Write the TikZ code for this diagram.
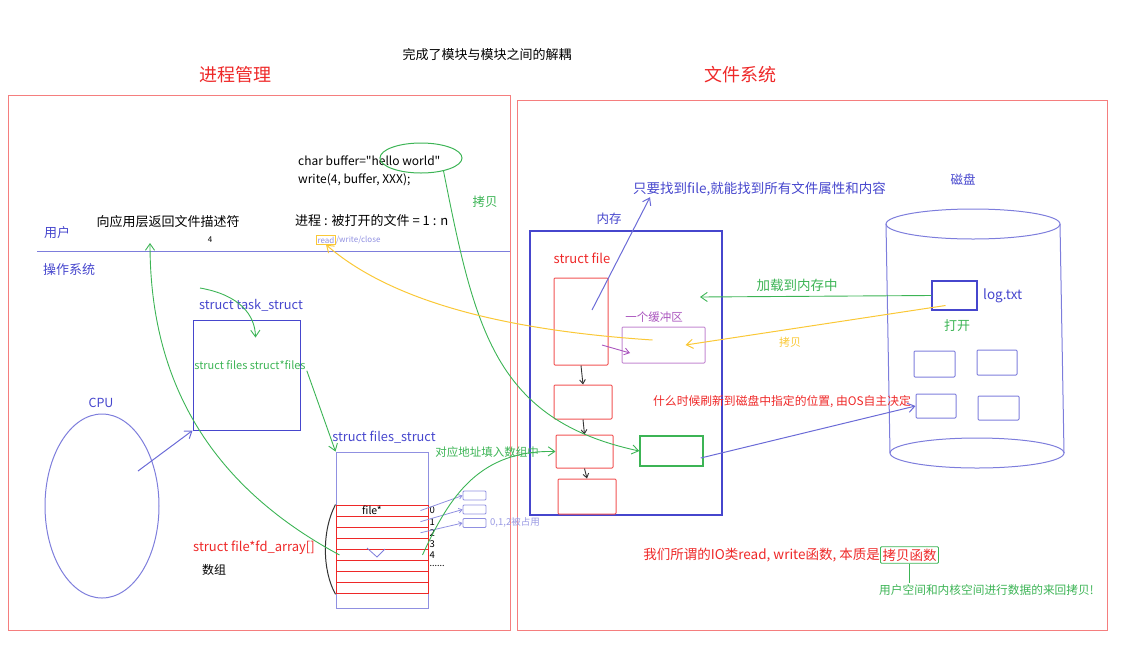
\documentclass[tikz,border=0pt]{standalone}
\usepackage{fontspec}
\setmainfont{Noto Sans CJK SC}
\newfontfamily\codefont{Noto Sans CJK SC}
\usepackage{tikz}
\usetikzlibrary{arrows.meta,shapes.geometric}
\definecolor{myred}{RGB}{238,40,40}
\definecolor{myblue}{RGB}{70,70,205}
\definecolor{mygreen}{RGB}{60,180,85}
\definecolor{myyellow}{RGB}{250,200,55}
\definecolor{mypurple}{RGB}{170,85,190}

\begin{document}
\begin{tikzpicture}[x=1pt, y=-1pt, >={Straight Barb[angle=70:8pt]},
    lbl/.style={inner sep=1pt, font=\fontsize{#1}{#1}\selectfont},
    box/.style={draw, inner sep=0pt, line width=1pt}]
    \useasboundingbox (0,0) rectangle (1137,662);

    % Titles
    \node[lbl=13] (decouple) at (487,55) {完成了模块与模块之间的解耦};
    \node[lbl=18, myred] (proc) at (235,75) {进程管理};
    \node[lbl=18, myred] (fsys) at (740,75) {文件系统};

    % Panels
    \draw[myred!60, line width=1pt] (8,95) rectangle (510,630);
    \draw[myred!60, line width=1pt] (517,100) rectangle (1107,630);

    % User / kernel
    \draw[myblue!70, line width=1pt] (37,251) -- (510,251);
    \node[lbl=13, myblue] (user) at (57,233) {用户};
    \node[lbl=13, myblue] (kernel) at (69,270) {操作系统};
    \node[lbl=13] (fdret) at (168,222) {向应用层返回文件描述符};
    \node[lbl=8] (fdnum) at (210,240) {4};

    % Code in user space
    \node[lbl=12, anchor=west] (code1) at (297,161) {\codefont char buffer="hello world"};
    \node[lbl=12, anchor=west] (code2) at (297,180) {write(4, buffer, XXX);};
    \node[ellipse, draw=mygreen, line width=1pt, minimum width=82, minimum height=30] (hello) at (421,158) {};
    \node[lbl=12.5, mygreen] (copy1) at (485,202) {拷贝};
    \node[lbl=13, anchor=west] (ratio) at (294,221) {进程 : 被打开的文件 = 1 : n};
    \node[lbl=8, draw=myyellow, line width=1pt, text=myblue!60] (readw) at (326,240) {read};
    \node[lbl=8, anchor=west, myblue!60, inner xsep=0pt] (wclose) at (readw.east) {/write/close};

    % task_struct
    \node[box, draw=myblue, minimum width=107, minimum height=110] (task) at (246.5,375) {};
    \node[lbl=12.8, myblue] (tasklbl) at (251,305) {struct task\_struct};
    \node[lbl=11, mygreen] (filesptr) at (250,365) {struct files struct*files};
    \coordinate (tsfrom) at (200,288);
    \draw[mygreen, line width=0.9pt, ->] (tsfrom) .. controls (240,295) and (255,315) .. ([shift={(9,18)}]task.north);

    % files_struct
    \node[box, draw=myblue!60, minimum width=92, minimum height=156] (fs) at (382,530) {};
    \node[lbl=12.8, myblue] (fslbl) at (384,437) {struct files\_struct};
    \draw[mygreen, line width=0.9pt, ->] (filesptr.south east) -- (fs.north west);

    % fd_array
    \foreach \i in {0,...,7}
      \node[box, draw=myred, minimum width=92, minimum height=11.1] (r\i) at (382,{505+11.1*(\i+0.5)}) {};
    \foreach \i in {0,...,4}
      \node[lbl=9.5, anchor=west, inner xsep=1pt] (idx\i) at (r\i.east) {\i};
    \node[lbl=9, anchor=west] (dots) at (r5.east) {......};
    \node[lbl=10.5] (fileptr) at ([xshift=-10]r0.center) {file*};
    \draw[myblue!70, line width=0.8pt] (367,548) -- (377,557) -- (385,549);
    \draw[black!80, line width=1pt] (r0.north west) .. controls (322,530) and (322,570) .. (r7.south west);
    \node[lbl=13, myred, anchor=west] (fdarr) at (192,548) {struct file*fd\_array[]};
    \node[lbl=12, inner sep=0pt] (arrlbl) at (214,570) {数组};

    % Occupied descriptors 0,1,2
    \foreach \i/\y in {0/495.5,1/509.5,2/523}
      \node[box, draw=myblue!60, line width=0.8pt, rounded corners=1pt, minimum width=23, minimum height=9] (sb\i) at (474.5,\y) {};
    \foreach \i in {0,1,2}
      \draw[myblue!60, line width=0.8pt, ->, >={Straight Barb[angle=70:4pt]}] ([xshift=-8]r\i.east) -- (sb\i.west);
    \node[lbl=9.5, myblue!55, anchor=west] (occ) at (489,522) {0,1,2被占用};

    % CPU
    \node[ellipse, draw=myblue!70, line width=1pt, minimum width=114, minimum height=184] (cpu) at (102,506) {};
    \node[lbl=12.5, myblue] (cpulbl) at (101,403) {CPU};
    \draw[myblue!80, line width=1pt, ->] ([shift={(36,-35)}]cpu.center) -- (task.south west);

    % Memory
    \node[box, draw=myblue, line width=1.5pt, minimum width=192, minimum height=284] (mem) at (626,373) {};
    \node[lbl=12.5, myblue] (memlbl) at (609,219) {内存};
    \node[lbl=13, myred] (sflbl) at (582,258) {struct file};
    \node[box, draw=myred!80, rounded corners=1pt, minimum width=54, minimum height=87] (fa) at (581,321.5) {};
    \node[box, draw=myred!80, rounded corners=1pt, minimum width=58, minimum height=34] (fb) at (583,402) {};
    \node[box, draw=myred!80, rounded corners=1pt, minimum width=57, minimum height=33] (fc) at (584.5,451.5) {};
    \node[box, draw=myred!80, rounded corners=1pt, minimum width=58, minimum height=35] (fd) at (587,496.5) {};
    \draw[black!80, line width=0.9pt, ->, >={Straight Barb[angle=70:5pt]}] (fa.south) -- (fb.north);
    \draw[black!80, line width=0.9pt, ->, >={Straight Barb[angle=70:5pt]}] (fb.south) -- (fc.north);
    \draw[black!80, line width=0.9pt, ->, >={Straight Barb[angle=70:5pt]}] (fc.south) -- (fd.north);
    \node[box, draw=mygreen, line width=1.5pt, minimum width=63, minimum height=30] (gb) at (671.5,451) {};
    \node[box, draw=mypurple!70, rounded corners=1pt, minimum width=83, minimum height=36] (buf) at (663.5,345) {};
    \node[lbl=11.5, mypurple] (buflbl) at (654,317) {一个缓冲区};
    \draw[mypurple, line width=0.9pt, ->, >={Straight Barb[angle=70:6pt]}] ([shift={(21,23.5)}]fa.center) -- ([shift={(-33.5,8)}]buf.center);

    % Find file
    \node[lbl=13.5, myblue, anchor=west] (findfile) at (632,189) {只要找到file,就能找到所有文件属性和内容};
    \draw[myblue!80, line width=1pt, ->] ([shift={(11,-11.5)}]fa.center) -- ([xshift=18]findfile.south west);

    % Green copy from user buffer
    \draw[mygreen, line width=0.9pt, ->] (hello.-30) .. controls (475,330) and (495,420) .. (gb.west);
    % fd returned to user
    \coordinate (fdup) at (150,243);
    \draw[mygreen, line width=0.9pt, ->] ([xshift=4]r4.west) .. controls (200,480) and (150,370) .. (fdup);
    % Address into array
    \draw[mygreen, line width=0.9pt, ->] ([xshift=-6]r4.east) .. controls (450,495) and (480,450) .. (fc.west);
    \node[lbl=11.5, mygreen] (filllbl) at (487,452) {对应地址填入数组中};

    % Disk
    \node[lbl=12.5, myblue] (disklbl) at (963,180) {磁盘};
    \draw[myblue!70, line width=1pt] (973,224) ellipse (87 and 15);
    \draw[myblue!70, line width=1pt] (977,453) ellipse (87 and 15);
    \draw[myblue!70, line width=1pt] (886,224) -- (890,453) (1060,224) -- (1064,453);
    \node[box, draw=myblue, line width=1.5pt, minimum width=45, minimum height=29] (logf) at (954.5,295.5) {};
    \node[lbl=13.5, myblue, anchor=west] (loglbl) at (982,296) {log.txt};
    \node[lbl=13, mygreen] (openlbl) at (957,326) {打开};
    \node[box, draw=myblue!70, rounded corners=1pt, minimum width=41, minimum height=26] (d1) at (934.5,364) {};
    \node[box, draw=myblue!70, rounded corners=1pt, minimum width=40, minimum height=25] (d2) at (997,362.5) {};
    \node[box, draw=myblue!70, rounded corners=1pt, minimum width=40, minimum height=24] (d3) at (936,406) {};
    \node[box, draw=myblue!70, rounded corners=1pt, minimum width=41, minimum height=24] (d4) at (998.5,408) {};

    % Load and copy
    \coordinate (loadend) at (700,297);
    \draw[mygreen, line width=0.9pt, ->] (logf.west) -- (loadend);
    \node[lbl=13.5, mygreen] (loadlbl) at (797,285) {加载到内存中};
    \draw[myyellow, line width=1pt, ->] ([shift={(-9,10)}]logf.center) -- ([xshift=-20]buf.east);
    \node[lbl=11, myyellow] (copy2) at (790,342) {拷贝};
    \draw[myyellow, line width=1pt, ->] ([shift={(-11,-5)}]buf.center) .. controls (500,330) and (390,300) .. (readw.south);

    % Flush to disk
    \draw[myblue!80, line width=1pt, ->] ([shift={(-3,7)}]gb.east) -- (d3.west);
    \node[lbl=11.8, myred] (flushlbl) at (782,402) {什么时候刷新到磁盘中指定的位置, 由OS自主决定};

    % Summary
    \node[lbl=13.5, draw=mygreen, line width=0.9pt, rounded corners=1pt, text=myred, inner sep=2pt] (copyfn) at (909.5,555) {拷贝函数};
    \node[lbl=13.5, myred, anchor=east, inner xsep=0pt] (iolbl) at (copyfn.west) {我们所谓的IO类read, write函数, 本质是};
    \node[lbl=11.7, mygreen, anchor=west] (note) at (878,590) {用户空间和内核空间进行数据的来回拷贝!};
    \draw[mygreen, line width=0.9pt] (copyfn.south) -- (copyfn.south |- note.north);
\end{tikzpicture}
\end{document}
